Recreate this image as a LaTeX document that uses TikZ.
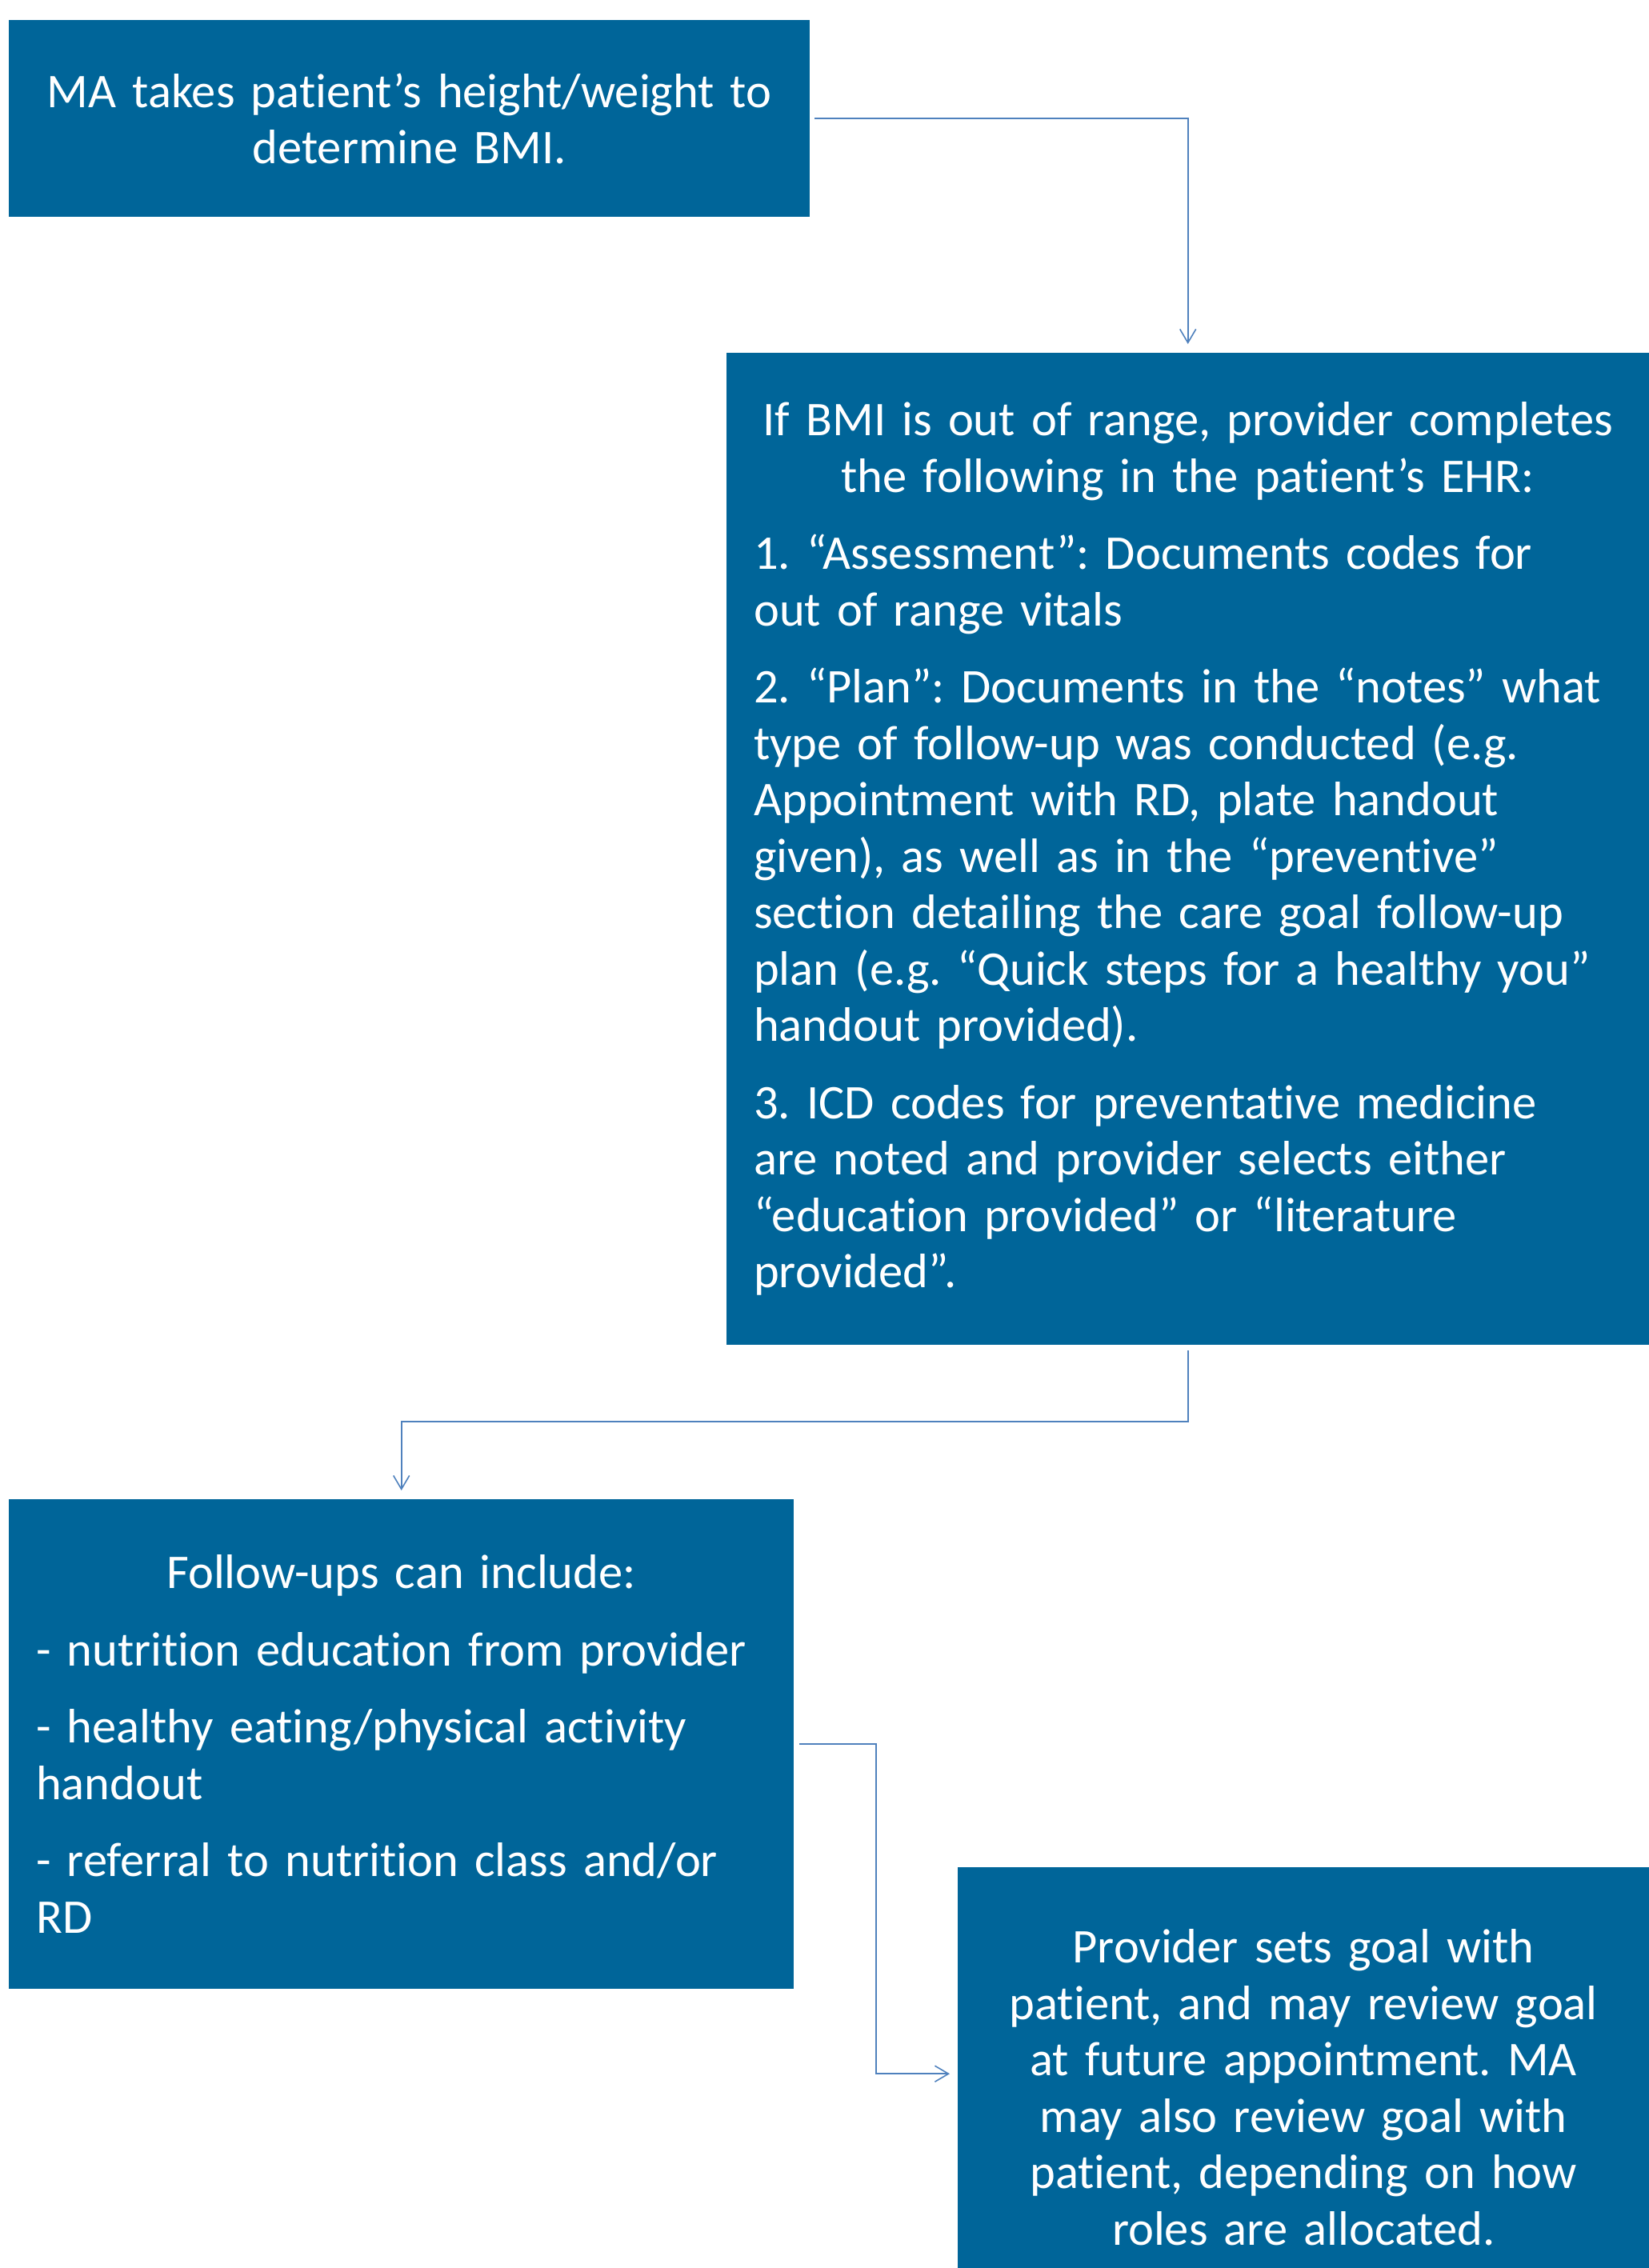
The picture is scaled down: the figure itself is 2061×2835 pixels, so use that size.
\documentclass[tikz,border=0pt]{standalone}
\usepackage{fontspec}
\setmainfont{Carlito}[Ligatures=NoCommon]
\usetikzlibrary{arrows.meta,calc}
\definecolor{boxblue}{RGB}{0,101,153}
\definecolor{linkblue}{RGB}{79,129,189}
\begin{document}
\frenchspacing
\begin{tikzpicture}[x=1pt,y=-1pt,
  box/.style={rectangle, fill=boxblue, draw=none, text=white, inner sep=0pt,
    font=\fontsize{60.5}{70.5}\selectfont\frenchspacing},
  link/.style={draw=linkblue, line width=2pt,
    -{Straight Barb[length=17pt,width=20pt,line width=1.6pt]}}]
\useasboundingbox (0,0) rectangle (2061,2835);

\node[box, anchor=north west, minimum width=1001pt, minimum height=246pt,
  text width=1001pt, align=center] (b1) at (11,25)
  {MA takes patient’s height/weight to\\determine BMI.};

\node[box, anchor=north west, minimum width=1153pt, minimum height=1240pt,
  text width=1085pt, align=left] (b2) at (908,441)
  {\makebox[\linewidth]{If BMI is out of range, provider completes}\\
   \makebox[\linewidth]{the following in the patient’s EHR:}\\[26pt]
   \mbox{1. “Assessment”: Documents codes for}\\
   out of range vitals\\[26pt]
   \mbox{2. “Plan”: Documents in the “notes” what}\\
   \mbox{type of follow-up was conducted (e.g.}\\
   \mbox{Appointment with RD, plate handout}\\
   \mbox{given), as well as in the “preventive”}\\
   \mbox{section detailing the care goal follow-up}\\
   \mbox{plan (e.g. “Quick steps for a healthy you”}\\
   handout provided).\\[26pt]
   \mbox{3. ICD codes for preventative medicine}\\
   \mbox{are noted and provider selects either}\\
   \mbox{“education provided” or “literature}\\
   provided”.};

\node[box, anchor=north west, minimum width=981pt, minimum height=612pt,
  text width=913pt, align=left] (b3) at (11,1874)
  {\makebox[\linewidth]{Follow-ups can include:}\\[26pt]
   \mbox{- nutrition education from provider}\\[26pt]
   \mbox{- healthy eating/physical activity}\\
   handout\\[26pt]
   \mbox{- referral to nutrition class and/or}\\
   RD};

\node[box, anchor=north west, minimum width=864pt, minimum height=550pt,
  text width=840pt, align=center] (b4) at (1197,2334)
  {Provider sets goal with\\
   patient, and may review goal\\
   at future appointment. MA\\
   may also review goal with\\
   patient, depending on how\\
   roles are allocated.};

\draw[link, shorten <=6pt, shorten >=11pt] (b1.east) -| (b2.north);
\draw[link, shorten <=7pt, shorten >=11pt] (b2.south) -- ++(0,96) -| (b3.north);
\draw[link, shorten <=7pt, shorten >=10pt] (b3.east) -- ++(102.6,0) |- ($(b4.west)+(0,-17)$);
\end{tikzpicture}
\end{document}
